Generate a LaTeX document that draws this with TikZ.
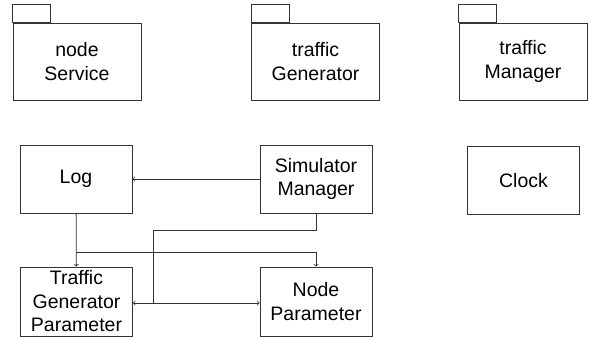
\documentclass[tikz,border=0pt]{standalone}
\usepackage{fontspec}
\setmainfont{Liberation Sans}
\usepackage{tikz}

\begin{document}
\begin{tikzpicture}[x=1pt,y=-1pt,line width=0.8pt,
    every node/.style={font=\fontsize{19.5}{23.5}\selectfont},
    pkgbody/.style={draw=black!80,minimum width=128pt,minimum height=77pt,align=center,inner sep=0pt},
    clsbox/.style={draw=black!80,minimum width=112pt,minimum height=68pt,align=center,inner sep=0pt},
    link/.style={draw=black!80},
    arr/.style={link,->,>=to}]
                \useasboundingbox (0,0) rectangle (589,340);

                % packages
                \node[pkgbody] (nodesvc) at (77,61.5) {node\\Service};
                \node[pkgbody] (trafgen) at (315.5,61.5) {traffic\\Generator};
                \node[pkgbody] (trafmgr) at (523,61.5) {traffic\\Manager};
                \foreach \p in {nodesvc,trafgen,trafmgr}
                    \draw[link] (\p.north west) rectangle ++(38,-18);

                % classes
                \node[clsbox] (log) at (76,179) {Log};
                \node[clsbox] (sim) at (316,179) {Simulator\\Manager};
                \node[clsbox] (clock) at (523.5,180.5) {Clock};
                \node[clsbox,minimum height=69pt] (tgp) at (76.5,301.5) {Traffic\\Generator\\Parameter};
                \node[clsbox,minimum height=69pt] (np) at (316,301.5) {Node\\Parameter};

                \coordinate (lb) at (76,252);
                \coordinate (sb) at (153,230);
                \coordinate (sj) at (153,303);

                \draw[arr] (sim) -- (log);
                \draw[arr] (log) -- (tgp);
                \draw[arr] (lb) -| (np.north);
                \draw[link] (sim.south) |- (sb) -- (sj);
                \draw[arr] (sj) -- (sj -| tgp.east);
                \draw[arr] (sj) -- (sj -| np.west);
            \end{tikzpicture}
\end{document}
